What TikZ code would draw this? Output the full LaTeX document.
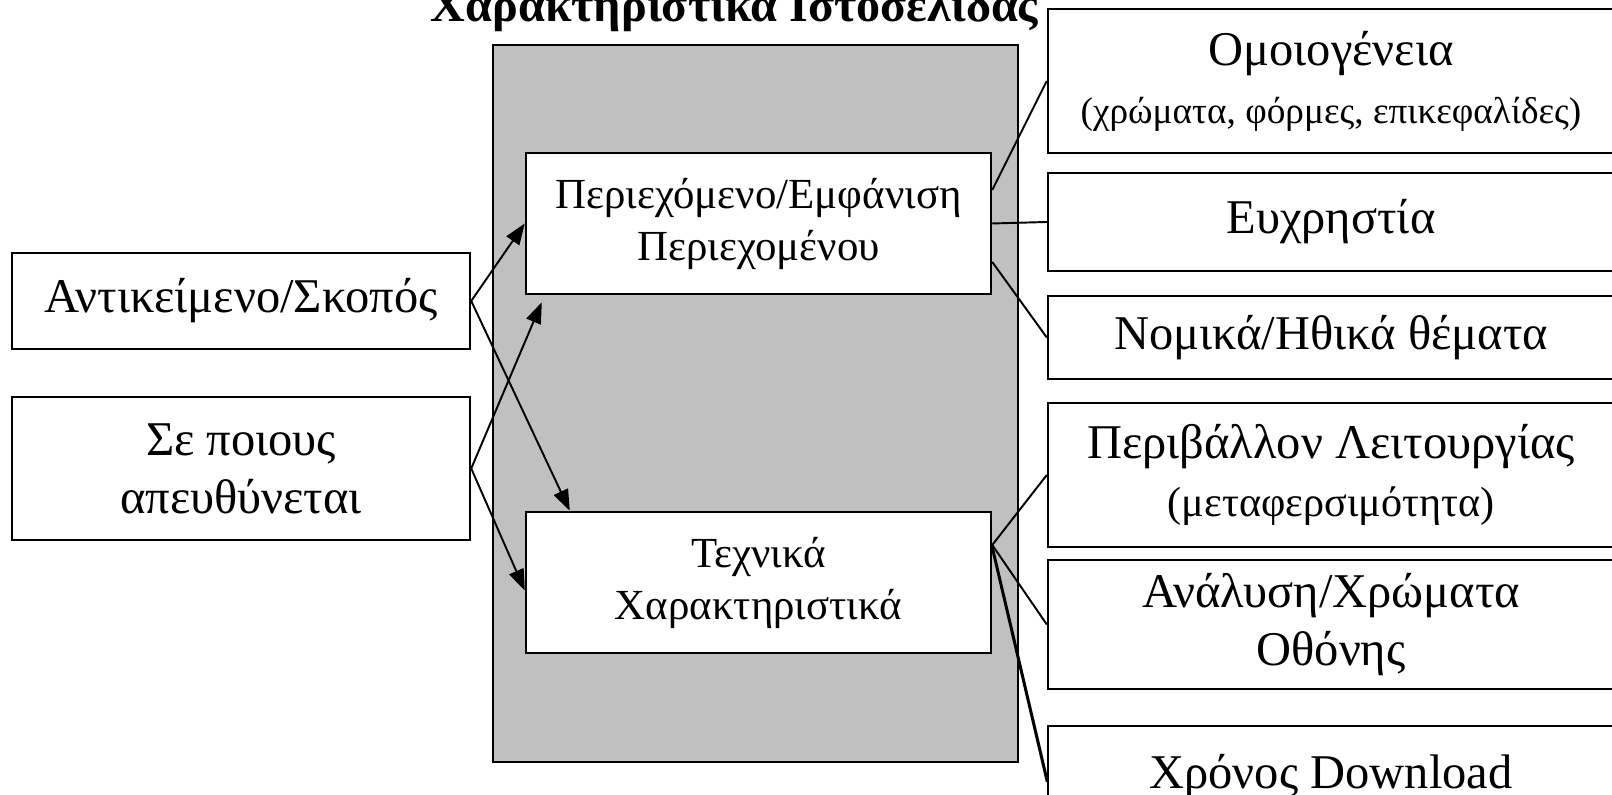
\documentclass[tikz,border=0pt]{standalone}
\usepackage{fontspec}
\setmainfont{Liberation Serif}
\usetikzlibrary{arrows.meta}
\definecolor{panelgray}{RGB}{192,192,192}
\newcommand{\subtxt}[2]{{\fontsize{#1}{#1}\selectfont #2}}
\tikzset{
  box/.style={draw, fill=white, line width=0.7pt, align=center, inner sep=0pt,
    font=\fontsize{13.8}{16.5}\selectfont},
  inbox/.style={box, font=\fontsize{12.2}{14.8}\selectfont},
  link/.style={line width=0.55pt},
  arr/.style={link, -{Triangle[length=6pt,width=4.4pt]}},
}
\begin{document}
\begin{tikzpicture}
  \useasboundingbox (0,0) rectangle (16.12,7.95);
  \node[anchor=base, font=\bfseries\fontsize{13.7}{15}\selectfont] (title) at (7.345,7.73) {Χαρακτηριστικά Ιστοσελίδας};
  \node[draw, fill=panelgray, line width=0.7pt, minimum width=5.25cm, minimum height=7.17cm] (panel) at (7.555,3.915) {};
  \node[inbox, minimum width=4.65cm, minimum height=1.41cm] (cont) at (7.585,5.715) {Περιεχόμενο/Εμφάνιση\\Περιεχομένου};
  \node[inbox, minimum width=4.65cm, minimum height=1.41cm] (tech) at (7.585,2.125) {Τεχνικά\\Χαρακτηριστικά};
  \node[box, minimum width=4.58cm, minimum height=0.96cm] (obj) at (2.41,4.94) {Αντικείμενο/Σκοπός};
  \node[box, minimum width=4.58cm, minimum height=1.43cm] (aud) at (2.41,3.265) {Σε ποιους\\απευθύνεται};
  \node[box, minimum width=5.66cm, minimum height=1.44cm] (hom) at (13.31,7.14) {Ομοιογένεια\\\subtxt{10.6}{(χρώματα, φόρμες, επικεφαλίδες)}};
  \node[box, minimum width=5.66cm, minimum height=0.98cm] (use) at (13.31,5.73) {Ευχρηστία};
  \node[box, minimum width=5.66cm, minimum height=0.83cm] (leg) at (13.31,4.575) {Νομικά/Ηθικά θέματα};
  \node[box, minimum width=5.66cm, minimum height=1.44cm] (env) at (13.31,3.20) {Περιβάλλον Λειτουργίας\\\subtxt{12}{(μεταφερσιμότητα)}};
  \node[box, minimum width=5.66cm, minimum height=1.29cm] (res) at (13.31,1.705) {Ανάλυση/Χρώματα\\Οθόνης};
  \node[box, minimum width=5.66cm, minimum height=1.02cm] (dl) at (13.31,0.18) {Χρόνος Download};
  \draw[arr] (obj.east) -- (cont.west);
  \draw[arr] (obj.east) -- ([xshift=0.45cm]tech.north west);
  \draw[arr] (aud.east) -- ([xshift=0.17cm,yshift=-0.07cm]cont.south west);
  \draw[arr] (aud.east) -- ([yshift=-0.08cm]tech.west);
  \draw[link] ([yshift=0.335cm]cont.east) -- (hom.west);
  \draw[link] (cont.east) -- (use.west);
  \draw[link] ([yshift=-0.385cm]cont.east) -- (leg.west);
  \draw[link] ([yshift=0.375cm]tech.east) -- (env.west);
  \draw[link] ([yshift=0.375cm]tech.east) -- (res.west);
  \draw[link] ([yshift=0.375cm]tech.east) -- (dl.west);
  \draw[link] ([yshift=0.33cm]tech.east) -- ([yshift=-0.05cm]dl.west);
\end{tikzpicture}
\end{document}
